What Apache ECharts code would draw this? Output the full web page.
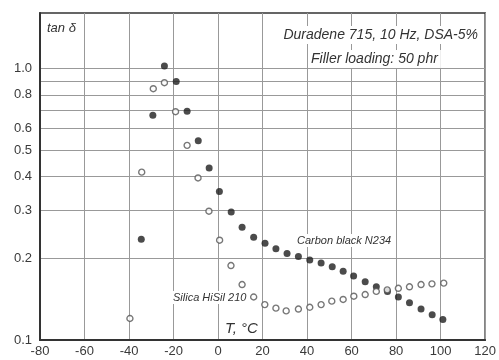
<!DOCTYPE html>
<html>
<head>
<meta charset="utf-8">
<script src="https://cdn.jsdelivr.net/npm/echarts@6/dist/echarts.min.js"></script>
<style>html,body{margin:0;padding:0;background:#fff}#c{width:499px;height:360px}</style>
</head>
<body>
<div id="c"></div>
<script>
// Temperature (°C) and tan δ values
var carbonT = [-34.5,-29.3,-24.1,-18.8,-13.9,-8.9,-4.0,0.6,5.9,10.8,16.0,21.1,26.0,31.0,36.1,41.2,46.3,51.3,56.2,60.9,66.1,71.1,76.1,81.0,86.0,91.2,96.2,101.0];
var carbonTan = [0.235,0.672,1.02,0.896,0.695,0.542,0.430,0.352,0.296,0.260,0.239,0.227,0.217,0.208,0.203,0.197,0.192,0.186,0.179,0.172,0.164,0.157,0.151,0.144,0.137,0.130,0.124,0.119];
var silicaT = [-39.6,-34.3,-29.1,-24.1,-19.1,-13.9,-9.0,-4.1,0.7,5.8,10.8,16.0,21.0,26.0,30.6,36.1,41.2,46.3,51.1,56.2,61.0,66.1,71.1,76.0,81.0,86.0,91.2,96.1,101.4];
var silicaTan = [0.120,0.415,0.842,0.886,0.693,0.521,0.395,0.298,0.233,0.188,0.160,0.144,0.135,0.131,0.128,0.130,0.132,0.135,0.139,0.141,0.145,0.147,0.151,0.153,0.155,0.157,0.160,0.161,0.162];
var yLabelValues = [0.1,0.2,0.3,0.4,0.5,0.6,0.8,1.0];
var yGridValues = [0.2,0.3,0.4,0.5,0.6,0.7,0.8,0.9,1.0];
var xTicks = [-80,-60,-40,-20,0,20,40,60,80,100,120];

function lg(v){ return Math.log10(v); }
function pairs(xs, ys){ return xs.map(function(x,i){ return [x, lg(ys[i])]; }); }

var FONT = "'Liberation Sans', Arial, sans-serif";
var chart = echarts.init(document.getElementById('c'), null, {renderer:'canvas'});
chart.setOption({
  animation: false,
  backgroundColor: '#fff',
  grid: {left: 40, right: 8, top: 13, bottom: 20, show: true, borderColor: '#333', borderWidth: 1.5},
  xAxis: {
    type: 'value', min: xTicks[0], max: xTicks[xTicks.length-1], interval: 20,
    axisLine: {show: true, onZero: false, lineStyle: {color: '#333', width: 2}},
    axisTick: {show: false},
    axisLabel: {color: '#3a3a3a', fontSize: 13, fontFamily: FONT, margin: 5},
    splitLine: {show: true, lineStyle: {color: '#999', width: 1}}
  },
  yAxis: {
    type: 'value', min: -1, max: lg(1.6),
    axisLine: {show: true, onZero: false, lineStyle: {color: '#333', width: 2}},
    axisTick: {show: false, customValues: yGridValues.map(lg)},
    axisLabel: {
      color: '#3a3a3a', fontSize: 13, fontFamily: FONT, margin: 8,
      customValues: yLabelValues.map(lg),
      formatter: function(v){ return Math.pow(10, v).toFixed(1); }
    },
    splitLine: {show: true, lineStyle: {color: '#999', width: 1}}
  },
  series: [
    {
      name: 'Carbon black N234', type: 'scatter', symbol: 'circle', symbolSize: 7,
      itemStyle: {color: '#1e1e1e'},
      data: pairs(carbonT, carbonTan)
    },
    {
      name: 'Silica HiSil 210', type: 'scatter', symbol: 'circle', symbolSize: 6,
      itemStyle: {color: '#fff', borderColor: '#555', borderWidth: 1.4},
      data: pairs(silicaT, silicaTan)
    }
  ],
  graphic: [
    {type: 'text', left: 47, top: 22, z: 10, style: {text: 'tan δ', font: 'italic 13px ' + FONT, fill: '#333'}},
    {type: 'text', right: 18, top: 26, z: 10, style: {text: 'Duradene 715, 10 Hz, DSA-5%', font: 'italic 14px ' + FONT, fill: '#333', backgroundColor: '#fff', padding: [2,3]}},
    {type: 'text', left: 308, top: 50, z: 10, style: {text: 'Filler loading: 50 phr', font: 'italic 14px ' + FONT, fill: '#333', backgroundColor: '#fff', padding: [2,3]}},
    {type: 'text', left: 295, top: 234, z: 10, style: {text: 'Carbon black N234', font: 'italic 11px ' + FONT, fill: '#333', backgroundColor: '#fff', padding: [1,2]}},
    {type: 'text', left: 171, top: 291, z: 10, style: {text: 'Silica HiSil 210', font: 'italic 11px ' + FONT, fill: '#333', backgroundColor: '#fff', padding: [1,2]}},
    {type: 'text', left: 225, top: 321, z: 10, style: {text: 'T, °C', font: 'italic 15px ' + FONT, fill: '#333'}}
  ]
});
</script>
</body>
</html>
